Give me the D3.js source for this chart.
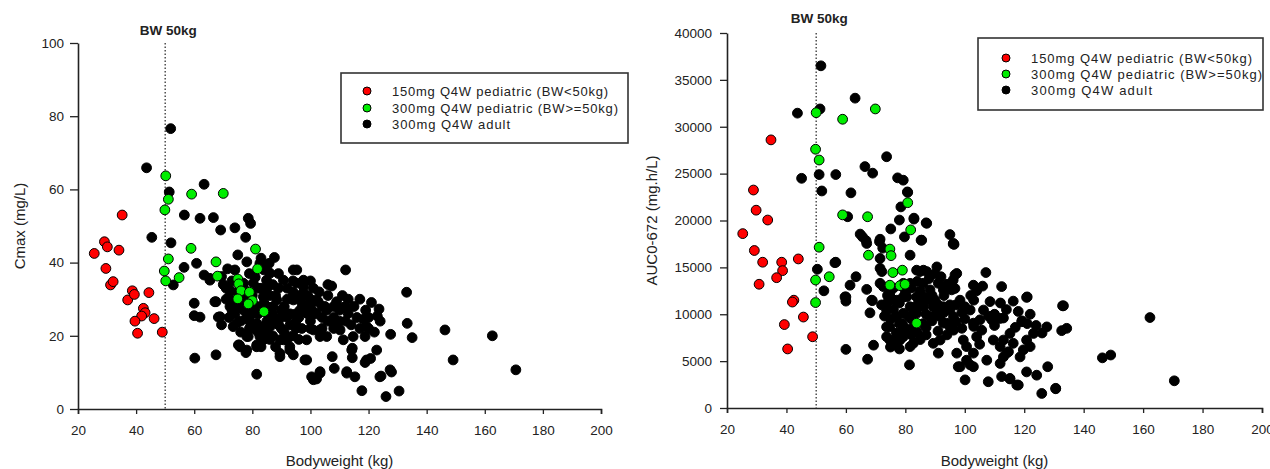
<!DOCTYPE html>
<html>
<head>
<meta charset="utf-8">
<script src="https://cdn.jsdelivr.net/npm/d3@7"></script>
<style>
  html, body { margin: 0; padding: 0; background: #fff; }
  svg { display: block; font-family: "Liberation Sans", Arial, sans-serif; }
</style>
</head>
<body>
<svg id="chart" width="1270" height="469"></svg>
<script>
// ---- Data: [bodyweight (kg), exposure] per subject ----
const groupLabels = [
  "150mg Q4W  pediatric (BW<50kg)",
  "300mg Q4W  pediatric (BW>=50kg)",
  "300mg Q4W  adult"
];
const groupColors = ["#ff0000", "#00ee00", "#000000"];

const xTicks = [20, 40, 60, 80, 100, 120, 140, 160, 180, 200];
const cmaxTicks = [0, 20, 40, 60, 80, 100];
const aucTicks = [0, 5000, 10000, 15000, 20000, 25000, 30000, 35000, 40000];
const bwCutoff = 50;

// Cmax (mg/L)
const cmaxPed150 = [
  [25.6,42.5],[29.1,45.7],[30.1,44.3],[34.1,43.4],[29.6,38.4],[31.2,33.9],[32.1,34.8],
  [35.2,53.0],[37.1,29.8],[38.7,32.3],[39.4,31.3],[44.4,31.8],[42.5,27.5],[43.1,26.3],
  [41.9,25.4],[39.6,24.0],[46.2,24.7],[40.5,20.7],[49.0,21.0]
];
const cmaxPed300 = [
  [50.2,63.7],[51.1,57.3],[49.9,54.4],[59.1,58.7],[70.0,58.9],[58.9,43.9],[51.1,41.0],
  [49.7,37.7],[50.2,35.0],[54.8,35.9],[67.5,40.2],[68.0,36.3],[81.1,43.7],[81.8,38.3],
  [75.0,35.5],[75.3,34.2],[76.1,32.3],[79.0,31.9],[75.0,30.1],[80.0,29.6],[78.6,28.7],[84.0,26.6]
];
const cmaxAdult = [
  [51.9,76.6],[43.6,65.9],[51.4,59.3],[63.4,61.4],[56.6,53.0],[62.0,52.1],[66.6,52.3],
  [78.6,52.1],[79.4,50.7],[69.1,48.9],[74.0,49.5],[77.7,46.9],[45.4,46.9],[52.0,45.4],
  [75.0,42.1],[78.1,40.2],[83.0,41.2],[87.6,41.4],[85.8,39.8],[71.5,38.3],[60.8,39.8],
  [56.5,38.7],[52.8,33.9],[63.4,36.6],[65.4,35.2],[60.0,28.9],[67.5,29.3],[60.0,25.5],
  [62.0,25.1],[68.3,25.1],[69.4,23.0],[60.2,13.9],[67.5,14.8],[81.5,9.5],[75.5,17.5],
  [78.1,16.1],[77.8,15.4],[81.5,17.5],[78.6,19.8],[82.6,19.8],[73.4,22.5],[72.3,28.0],
  [72.3,32.5],[73.4,30.7],[80.3,34.4],[84.9,35.2],[88.4,29.8],[90.7,35.2],[94.1,38.0],
  [95.3,34.4],[97.6,31.6],[96.4,27.0],[91.8,25.2],[88.4,24.3],[83.8,22.5],[84.9,20.7],
  [90.7,18.9],[92.9,17.0],[89.5,15.2],[94.1,14.8],[98.1,13.4],[102.1,29.8],[101.0,21.6],
  [100.4,8.8],[102.1,8.2],[103.3,9.8],[112.1,38.0],[107.3,33.6],[97.6,35.2],[133.1,31.9],
  [102.7,29.3],[109.0,29.3],[121.0,29.1],[123.6,27.3],[123.0,25.4],[113.0,26.1],[101.0,26.6],
  [105.0,28.0],[118.2,24.5],[119.3,22.5],[118.8,19.8],[133.3,23.4],[127.6,20.4],[135.0,19.5],
  [146.3,21.6],[162.6,20.0],[149.1,13.4],[170.7,10.7],[98.7,13.4],[107.5,14.3],[108.2,11.1],
  [114.4,16.6],[114.4,14.0],[112.5,10.2],[115.3,8.8],[118.8,12.7],[120.7,13.8],[122.8,16.1],
  [124.3,9.0],[127.9,10.1],[117.7,5.0],[126.0,3.4],[130.5,4.9],[101.0,8.0],[103.3,21.6],
  [110.2,21.6],[111.3,18.9],[114.7,19.8],[105.6,19.8],[107.9,23.4],[65.4,35.7],[69.4,36.2],
  [72.3,31.1],[76.9,34.4],[82.6,39.8],[86.1,37.1],[95.3,38.0],[97.6,33.4],[105.6,27.0],
  [114.2,16.1],[119.3,13.4],[94.1,29.8],[91.8,26.1],[87.2,28.0],[83.8,30.7],[81.5,28.0],
  [78.1,25.2],[74.6,23.4],[81.5,23.4],[86.1,22.5],[89.5,18.9],[92.9,16.1],[89.5,14.3],
  [78.1,19.8],[75.8,17.0],[81.5,17.0],[103.3,10.2],[112.5,9.8],[98.7,18.9],[103.3,19.8],
  [127.4,10.7],[123.9,8.8],[67.1,29.3],[68.9,25.2],[72.9,28.9],[75.2,17.5],
  [77.0,27.0],[79.0,24.0],[82.0,26.0],[84.0,29.0],[86.0,25.0],[88.0,31.0],[90.0,27.0],
  [92.0,30.0],[93.0,23.0],[95.0,26.0],[97.0,29.0],[99.0,31.0],[100.0,24.0],[104.0,25.0],
  [106.0,31.0],[108.0,25.0],[110.0,27.0],[112.0,24.0],[115.0,28.0],[117.0,22.0],[119.0,27.0],
  [80.0,31.0],[85.0,33.0],[87.0,20.0],[91.0,21.0],[95.0,22.0],[100.0,28.0],[104.0,22.0],
  [96.0,19.0],[111.0,31.0],[106.0,34.0],[101.0,33.0],[89.0,37.0],[94.0,32.0],[76.0,21.0],
  [79.0,22.0],[83.0,17.0],[86.0,19.0],[78.0,29.0],[74.0,26.0],[72.0,25.0],[71.0,33.0],
  [74.0,38.0],[79.0,37.0],[82.0,33.0],
  [73.0,35.0],[75.0,32.0],[77.0,30.0],[80.0,28.0],[83.0,27.0],[85.0,24.0],[87.0,26.0],
  [89.0,23.0],[91.0,28.0],[93.0,26.0],[95.0,24.0],[97.0,22.0],[99.0,26.0],[83.0,33.0],
  [86.0,31.0],[89.0,33.0],[92.0,33.0],[94.0,35.0],[96.0,31.0],[98.0,28.0],[100.0,30.0],
  [102.0,26.0],[104.0,28.0],[106.0,24.0],[108.0,22.0],[110.0,24.0],[112.0,28.0],[114.0,23.0],
  [116.0,25.0],[120.0,25.0],[122.0,21.0],[76.0,24.0],[78.0,27.0],[80.0,22.0],[82.0,21.0],
  [84.0,19.0],[88.0,17.0],[90.0,22.0],[92.0,19.0],[94.0,20.0],[80.0,26.0],[85.0,28.0],
  [90.0,25.0],[96.0,25.0],[100.0,22.0],[75.0,28.0],[71.0,30.0],[73.0,27.0],[70.0,34.0],
  [77.0,33.0],[81.0,36.0],[84.0,38.0],[87.0,34.0],[100.0,35.0],[103.0,32.0],[108.0,28.0],
  [113.0,30.0],[117.0,30.0],[120.0,22.0],[124.0,24.0]
];

// AUC0-672 (mg.h/L)
const aucPed150 = [
  [34.8,28600],[28.9,23250],[29.8,21100],[33.7,20050],[25.3,18600],[29.2,16800],[32.0,15550],
  [30.8,13200],[38.4,15550],[38.7,14650],[36.7,13900],[44.0,15900],[42.5,11500],[42.0,11300],
  [45.7,9700],[39.3,8900],[40.4,6300],[48.8,7600]
];
const aucPed300 = [
  [50.0,31500],[49.8,27600],[51.0,26450],[58.9,30800],[69.9,31900],[58.9,20600],[67.3,20400],
  [80.8,21900],[81.8,19000],[51.0,17150],[49.8,13650],[49.8,11250],[54.4,14000],[67.6,16300],
  [74.8,16950],[75.2,16250],[75.8,14450],[79.0,14700],[74.8,13100],[78.2,13050],[79.9,13200],[83.8,9050]
];
const aucAdult = [
  [51.6,36500],[63.1,33050],[51.3,31900],[43.7,31450],[73.7,26800],[66.4,25750],[69.0,25050],
  [56.6,24900],[51.0,24900],[45.1,24500],[77.4,24550],[79.3,24300],[51.9,23150],[61.7,22950],
  [80.8,23000],[78.5,21450],[78.0,20050],[82.9,20150],[87.0,19750],[60.6,20400],[75.1,19100],
  [64.8,18550],[95.0,18500],[79.7,18250],[71.5,18000],[65.6,18250],[67.0,17550],[71.3,17750],
  [72.4,17050],[81.6,16300],[85.5,17900],[96.1,17500],[50.4,14800],[56.6,15550],[63.4,14000],
  [61.4,13100],[52.6,12500],[60.0,11850],[60.0,11400],[67.0,12650],[68.9,11450],[68.1,10150],
  [71.5,14900],[72.1,14550],[72.6,12950],[60.0,6250],[69.3,6700],[67.3,5200],[81.4,4600],
  [73.7,11150],[76.0,11500],[73.7,7600],[76.5,7250],[74.8,8650],[79.3,7600],[81.6,6550],
  [82.7,8650],[83.8,10100],[79.3,10100],[80.5,11850],[86.1,11850],[83.8,14700],[86.1,14700],
  [90.6,15050],[92.8,12600],[88.3,11500],[90.6,10100],[92.8,9050],[89.4,6900],[95.0,8650],
  [97.3,5850],[97.8,4400],[96.1,13650],[91.1,5850],[97.3,14350],[80.7,23050],[82.9,20250],
  [87.2,19700],[66.8,17850],[85.3,17900],[96.4,17450],[56.3,15500],[59.7,11850],[68.7,11500],
  [71.5,15950],[84.9,14550],[87.2,14550],[91.1,13300],[102.9,13100],[107.1,14450],[112.4,12950],
  [116.3,11400],[120.8,11800],[132.9,10900],[134.3,8500],[132.6,8250],[127.6,8650],[123.1,7950],
  [119.2,9200],[115.2,7950],[111.9,9550],[109.1,9400],[105.7,8300],[106.3,10450],[108.5,11350],
  [101.8,10450],[98.4,11500],[95.6,12600],[93.9,9050],[96.2,8300],[99.5,7250],[91.7,7250],
  [98.4,4400],[100.6,5100],[102.9,4400],[100.1,3000],[107.4,5100],[107.9,2800],[112.4,3350],
  [115.2,3150],[117.5,2450],[111.9,4750],[114.1,5850],[118.6,5450],[120.8,3850],[124.2,3500],
  [127.9,4400],[125.9,1550],[130.6,2100],[74.8,7250],[78.2,7250],[82.7,6900],[73.7,8650],
  [79.3,8300],[88.3,9750],[86.1,10800],[81.6,10800],[77.1,9750],[73.7,10450],[79.3,11850],
  [83.8,11850],[88.3,11850],[89.4,10800],[92.8,10800],[96.2,9750],[77.1,11500],[79.3,13300],
  [88.3,12600],[81.6,13300],[71.5,13300],[74.8,12250],[91.7,9750],[102.9,9050],[105.1,9400],
  [109.6,7250],[113.0,7250],[120.8,7250],[119.7,6200],[100.6,6550],[102.9,5850],[116.3,6900],
  [111.9,6550],[121.0,11850],[133.2,10900],[119.2,9300],[162.3,9650],[146.3,5350],[149.1,5650],
  [170.5,2900],[130.6,2050],[118.0,2450],[115.2,3100],[101.8,4600],[113.0,5450],[114.7,6000],
  [122.0,6550],[96.7,14200],[96.7,12750],[96.2,17550],
  [82.0,9500],[84.0,11000],[86.0,9000],[90.0,11500],[93.0,10200],[95.0,11000],[85.0,12500],
  [78.0,9000],[76.0,10500],[99.0,10200],[103.0,11500],[110.0,10000],[113.0,9600],[117.0,8600],
  [121.0,9000],[104.0,7600],[99.0,8500],[87.0,7800],[84.0,8100],[77.0,6900],
  [75.0,9500],[77.0,8000],[79.0,9000],[81.0,9800],[83.0,10500],[85.0,11200],[87.0,10000],
  [89.0,12000],[91.0,11000],[93.0,12000],[95.0,10500],[97.0,11000],[80.0,12300],[82.0,12800],
  [84.0,13500],[86.0,13300],[88.0,13800],[90.0,14300],[92.0,14000],[94.0,13200],[76.0,12800],
  [78.0,11200],[80.0,8500],[82.0,7800],[85.0,7300],[87.0,8600],[89.0,9300],[91.0,8200],
  [94.0,7800],[97.0,9200],[100.0,10800],[102.0,12000],[104.0,12500],[106.0,13000],[108.0,9800],
  [110.0,8800],[112.0,11200],[114.0,10500],[118.0,10300],[122.0,10000],[124.0,8800],[126.0,8000],
  [103.0,8700],[105.0,6800],[100.0,9500],[75.0,6500],[78.0,6300],[73.0,9800],[74.0,12000],[72.0,11000]
];

// ---- Layout ----
const svg = d3.select("#chart");
const ink = "#222";
const font = "'Liberation Sans', Arial, sans-serif";

const panels = [
  {
    x: [78, 601], y: [409, 43], yDomain: [0, 100], yTicks: cmaxTicks, yTickSize: 8, yTickPad: 6,
    yTitle: "Cmax (mg/L)", yTitleX: 25, series: [cmaxAdult, cmaxPed150, cmaxPed300],
    cutLabelY: 35, legend: { x: 341, y: 73, w: 287, h: 70, mx: 367, tx: 392, ty: [91, 108, 124], tl: [216, 226, 118] }
  },
  {
    x: [727, 1262], y: [408, 33], yDomain: [0, 40000], yTicks: aucTicks, yTickSize: 7, yTickPad: 8,
    yTitle: "AUC0-672 (mg.h/L)", yTitleX: 657, series: [aucAdult, aucPed150, aucPed300],
    cutLabelY: 23, legend: { x: 978, y: 38, w: 285, h: 72, mx: 1006, tx: 1031, ty: [58, 74, 90], tl: [221, 231, 121] }
  }
];
// series order within a panel: adult, 150mg pediatric, 300mg pediatric
const seriesColorIdx = [2, 0, 1];

panels.forEach(p => {
  const x = d3.scaleLinear().domain([20, 200]).range(p.x);
  const y = d3.scaleLinear().domain(p.yDomain).range(p.y);
  const g = svg.append("g");

  // x axis
  const xa = g.append("g")
    .attr("transform", `translate(0,${p.y[0]})`)
    .call(d3.axisBottom(x).tickValues(xTicks).tickFormat(d3.format("d"))
      .tickSize(5).tickSizeOuter(5).tickPadding(11));
  // y axis
  const ya = g.append("g")
    .attr("transform", `translate(${p.x[0]},0)`)
    .call(d3.axisLeft(y).tickValues(p.yTicks).tickFormat(d3.format("d"))
      .tickSize(p.yTickSize).tickSizeOuter(0).tickPadding(p.yTickPad));
  [xa, ya].forEach(a => {
    a.select(".domain").attr("stroke", ink).attr("stroke-width", 1.6);
    a.selectAll(".tick line").attr("stroke", ink).attr("stroke-width", 1.3);
    a.selectAll(".tick text").attr("fill", ink).style("font-size", "13.5px").style("font-family", font);
  });

  // axis titles
  g.append("text")
    .attr("x", (p.x[0] + p.x[1]) / 2).attr("y", 466)
    .attr("text-anchor", "middle").attr("fill", ink)
    .style("font-size", "15px").text("Bodyweight (kg)");
  g.append("text")
    .attr("transform", `translate(${p.yTitleX},${(p.y[0] + p.y[1]) / 2}) rotate(-90)`)
    .attr("text-anchor", "middle").attr("fill", ink)
    .style("font-size", "15px").text(p.yTitle);

  // bodyweight cut-off reference line
  g.append("line")
    .attr("x1", x(bwCutoff)).attr("x2", x(bwCutoff))
    .attr("y1", p.y[1]).attr("y2", p.y[0])
    .attr("stroke", ink).attr("stroke-width", 1.2).attr("stroke-dasharray", "1.5,2");
  g.append("text")
    .attr("x", x(bwCutoff) + 3).attr("y", p.cutLabelY)
    .attr("text-anchor", "middle").attr("fill", ink)
    .style("font-size", "13.5px").style("font-weight", "bold").text("BW 50kg");

  // points
  p.series.forEach((data, si) => {
    const c = groupColors[seriesColorIdx[si]];
    g.append("g").selectAll("circle").data(data).join("circle")
      .attr("cx", d => x(d[0])).attr("cy", d => y(d[1]))
      .attr("r", 4.9)
      .attr("fill", c).attr("stroke", "#000").attr("stroke-width", 1);
  });

  // legend
  const L = p.legend;
  const lg = g.append("g");
  lg.append("rect")
    .attr("x", L.x).attr("y", L.y).attr("width", L.w).attr("height", L.h)
    .attr("fill", "#fff").attr("stroke", "#333").attr("stroke-width", 1.6);
  groupLabels.forEach((lab, i) => {
    lg.append("circle")
      .attr("cx", L.mx).attr("cy", L.ty[i]).attr("r", 4)
      .attr("fill", groupColors[i]).attr("stroke", "#000").attr("stroke-width", 1);
    lg.append("text")
      .attr("x", L.tx).attr("y", L.ty[i]).attr("dy", "0.35em")
      .attr("fill", ink).style("font-size", "13px")
      .attr("textLength", L.tl[i]).attr("lengthAdjust", "spacing")
      .text(lab);
  });
});
</script>
</body>
</html>
